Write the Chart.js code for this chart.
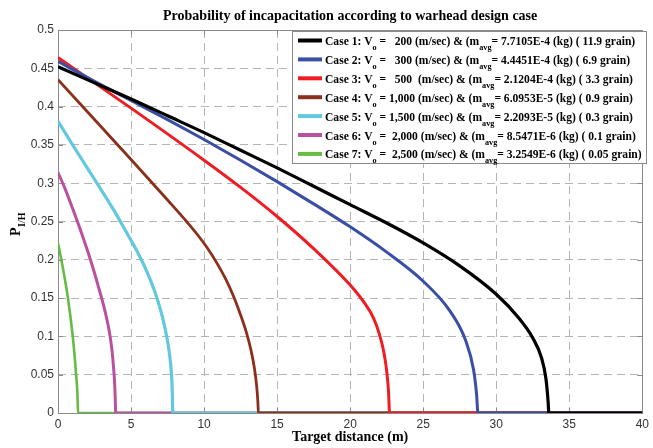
<!DOCTYPE html>
<html><head><meta charset="utf-8">
<script src="https://cdn.jsdelivr.net/npm/chart.js@4.4.1/dist/chart.umd.min.js"></script>
<style>html,body{margin:0;padding:0;background:#fff}#wrap{width:653px;height:448px}</style>
</head><body><div id="wrap"><canvas id="c" width="653" height="448"></canvas></div>
<script>
const titleText = 'Probability of incapacitation according to warhead design case';
const xAxisTitle = 'Target distance (m)';
const yAxisTitleMain = 'P';
const yAxisTitleSub = 'I/H';
const xTickLabels = ['0','5','10','15','20','25','30','35','40'];
const yTickLabels = ['0','0.05','0.1','0.15','0.2','0.25','0.3','0.35','0.4','0.45','0.5'];

const caseNames = ['Case 1','Case 2','Case 3','Case 4','Case 5','Case 6','Case 7'];
const velocities = ['  200','  300','  500 ','1,000','1,500',' 2,000',' 2,500'];
const masses = ['7.7105E-4','4.4451E-4','2.1204E-4','6.0953E-5','2.2093E-5','8.5471E-6','3.2549E-6'];
const grains = ['11.9','6.9','3.3','0.9','0.3','0.1','0.05'];
const colors = ['#000000','#3a4ea3','#ee1d23','#8c2f1b','#62c8df','#b9519f','#66bb44'];

const case1X = [0,2.5,5,7.5,10,12.5,15,17.5,20,22.5,25,27.5,30,31.5,32.5,33.1,33.4,33.55,33.6,40];
const case1Y = [0.452,0.431,0.410,0.388,0.366,0.343,0.320,0.296,0.272,0.248,0.222,0.192,0.155,0.125,0.098,0.072,0.045,0.015,0,0];
const case2X = [0,2.5,5,7.5,10,12.5,15,17.5,20,22.5,25,26.8,27.9,28.45,28.65,28.75,40];
const case2Y = [0.459,0.433,0.408,0.383,0.357,0.330,0.302,0.273,0.243,0.210,0.172,0.134,0.095,0.056,0.025,0,0];
const case3X = [0,5,10,12.5,15,17.5,20,21,21.6,22,22.3,22.5,22.62,22.7,40];
const case3Y = [0.464,0.398,0.330,0.2945,0.2565,0.2145,0.167,0.143,0.124,0.103,0.080,0.055,0.030,0,0];
const case4X = [0,5,7.5,8.8,9.5,10.2,10.9,11.5,12.0,12.5,12.9,13.2,13.45,13.6,13.68,13.72,40];
const case4Y = [0.435,0.331,0.278,0.250,0.234,0.216,0.195,0.174,0.153,0.128,0.105,0.083,0.058,0.035,0.015,0,0];
const case5X = [0,1,2,3,4,4.8,5.5,6.1,6.6,7.0,7.3,7.55,7.72,7.8,7.84,7.86,40];
const case5Y = [0.381,0.350,0.320,0.290,0.259,0.232,0.208,0.184,0.160,0.136,0.113,0.088,0.062,0.040,0.015,0,0];
const case6X = [0,0.5,1.0,1.5,2.0,2.4,2.75,3.1,3.36,3.56,3.7,3.8,3.88,3.92,3.95,40];
const case6Y = [0.314,0.292,0.267,0.241,0.213,0.189,0.166,0.142,0.121,0.101,0.081,0.060,0.038,0.018,0,0];
const case7X = [0,0.23,0.68,1.01,1.24,1.33,1.37,40];
const case7Y = [0.222,0.200,0.150,0.100,0.050,0.025,0,0];

const allX = [case1X,case2X,case3X,case4X,case5X,case6X,case7X];
const allY = [case1Y,case2Y,case3Y,case4Y,case5Y,case6Y,case7Y];
const widths = [3.2,3,3,2.8,3.2,3,2.6];

const datasets = allX.map((xs, i) => ({
  label: caseNames[i],
  data: xs.map((x, j) => ({x: x, y: allY[i][j]})),
  borderColor: colors[i],
  backgroundColor: colors[i],
  borderWidth: widths[i],
  pointRadius: 0,
  fill: false,
  cubicInterpolationMode: 'monotone'
}));

const SERIF = '"Liberation Serif", "Times New Roman", serif';

function legendParts(i) {
  return [
    [caseNames[i] + ': V', false],
    ['o', true],
    [' = ' + velocities[i] + ' (m/sec) & (m', false],
    ['avg', true],
    ['= ' + masses[i] + ' (kg) ( ' + grains[i] + ' grain)', false]
  ];
}

const decor = {
  id: 'decor',
  beforeDatasetsDraw(chart) {
    const {ctx, chartArea: a, scales: {x, y}} = chart;
    ctx.save();
    ctx.strokeStyle = '#8a8a8a';
    ctx.lineWidth = 1;
    ctx.setLineDash([]);
    ctx.beginPath();
    x.ticks.forEach(t => {
      const px = Math.round(x.getPixelForValue(t.value)) + 0.5;
      ctx.moveTo(px, a.bottom); ctx.lineTo(px, a.bottom - 5);
      ctx.moveTo(px, a.top); ctx.lineTo(px, a.top + 5);
    });
    y.ticks.forEach(t => {
      const py = Math.round(y.getPixelForValue(t.value)) + 0.5;
      ctx.moveTo(a.left, py); ctx.lineTo(a.left + 5, py);
      ctx.moveTo(a.right, py); ctx.lineTo(a.right - 5, py);
    });
    ctx.stroke();
    ctx.strokeRect(Math.round(a.left) + 0.5, Math.round(a.top) + 0.5,
      Math.round(a.right - a.left), Math.round(a.bottom - a.top));
    ctx.restore();
  },
  afterDatasetsDraw(chart) {
    const {ctx} = chart;
    ctx.save();
    const bx = 292, by = 31, bw = 354, bh = 132;
    ctx.fillStyle = '#ffffff';
    ctx.fillRect(bx, by, bw, bh);
    ctx.strokeStyle = '#8a8a8a';
    ctx.lineWidth = 1;
    ctx.strokeRect(bx + 0.5, by + 0.5, bw, bh);
    const textStart = 325, textEnd = 642;
    const measureRow = (i, ms, ss) => legendParts(i).reduce((w, [s, sub]) => {
      ctx.font = 'bold ' + (sub ? ss : ms) + 'px ' + SERIF;
      return w + ctx.measureText(s).width;
    }, 0);
    let maxW = 0;
    for (let i = 0; i < caseNames.length; i++) maxW = Math.max(maxW, measureRow(i, 12, 8.5));
    const k = Math.min(1.1, (textEnd - textStart) / maxW);
    const mainSize = 12 * k, subSize = 8.5 * k;
    ctx.textBaseline = 'alphabetic';
    ctx.textAlign = 'left';
    for (let i = 0; i < caseNames.length; i++) {
      const cy = 40.5 + i * 18.9;
      ctx.strokeStyle = colors[i];
      ctx.lineWidth = 4;
      ctx.beginPath(); ctx.moveTo(298, cy); ctx.lineTo(322, cy); ctx.stroke();
      let tx = textStart;
      const base = cy + 4.5;
      ctx.fillStyle = '#000';
      legendParts(i).forEach(([s, sub]) => {
        ctx.font = 'bold ' + (sub ? subSize : mainSize) + 'px ' + SERIF;
        ctx.fillText(s, tx, sub ? base + 5 : base);
        tx += ctx.measureText(s).width;
      });
    }
    ctx.restore();
  },
  afterDraw(chart) {
    const {ctx, chartArea: a} = chart;
    const cx = (a.left + a.right) / 2;
    ctx.save();
    ctx.fillStyle = '#000';
    ctx.textAlign = 'center';
    ctx.textBaseline = 'alphabetic';
    ctx.font = 'bold 14px ' + SERIF;
    ctx.fillText(titleText, cx, 20);
    ctx.fillText(xAxisTitle, cx, 441);
    ctx.translate(20, 236);
    ctx.rotate(-Math.PI / 2);
    ctx.textAlign = 'left';
    ctx.font = 'bold 14px ' + SERIF;
    ctx.fillText(yAxisTitleMain, 0, 0);
    const w = ctx.measureText(yAxisTitleMain).width;
    ctx.font = 'bold 10px ' + SERIF;
    ctx.fillText(yAxisTitleSub, w + 0.5, 5);
    ctx.restore();
  }
};

new Chart(document.getElementById('c'), {
  type: 'line',
  data: {datasets: datasets},
  plugins: [decor],
  options: {
    responsive: false,
    animation: false,
    devicePixelRatio: 1,
    layout: {padding: {top: 30, right: 6, left: 0, bottom: 0}},
    plugins: {legend: {display: false}, title: {display: false}, tooltip: {enabled: false}},
    scales: {
      x: {
        type: 'linear', min: 0, max: 40,
        ticks: {stepSize: 5, autoSkip: false, maxRotation: 0, padding: 4,
          color: '#333', font: {family: '"Liberation Sans", Arial, sans-serif', size: 12},
          callback: (v, i) => xTickLabels[i]},
        grid: {color: '#b4b4b4', lineWidth: 1, drawTicks: false},
        border: {display: false, dash: [8, 5]},
        afterFit: (s) => { s.height = 35; }
      },
      y: {
        type: 'linear', min: 0, max: 0.5,
        ticks: {stepSize: 0.05, autoSkip: false, padding: 4,
          color: '#333', font: {family: '"Liberation Sans", Arial, sans-serif', size: 12},
          callback: (v, i) => yTickLabels[i]},
        grid: {color: '#b4b4b4', lineWidth: 1, drawTicks: false},
        border: {display: false, dash: [8, 5]},
        afterFit: (s) => { s.width = 58; }
      }
    }
  }
});
</script></body></html>
